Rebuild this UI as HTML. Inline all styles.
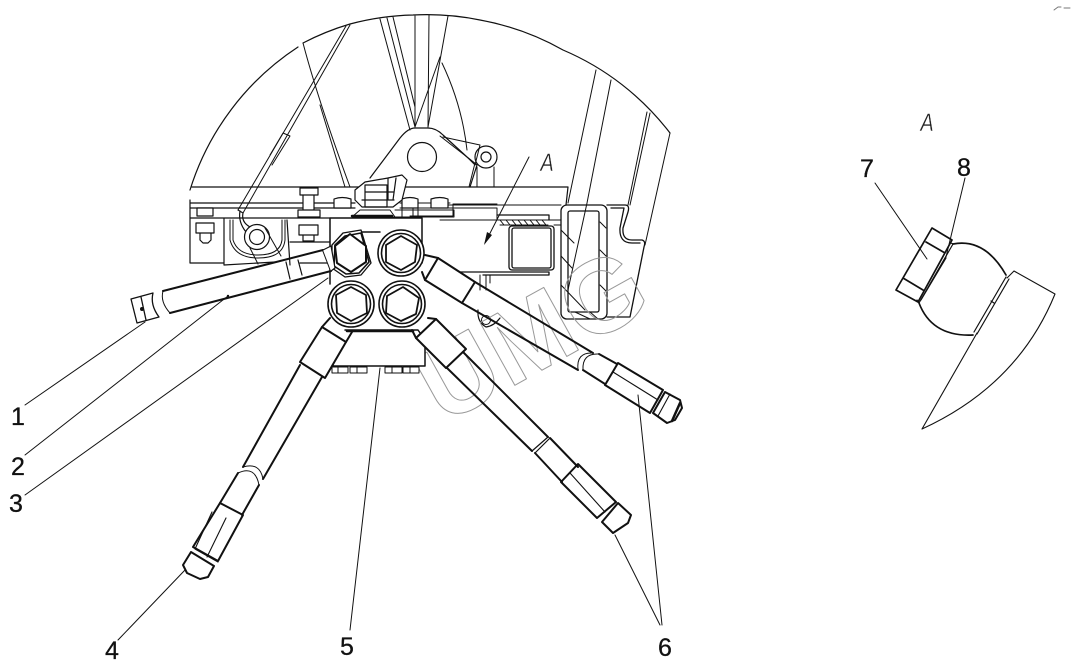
<!DOCTYPE html>
<html><head><meta charset="utf-8"><style>
html,body{margin:0;padding:0;background:#fff}
svg{display:block}
text{font-family:"Liberation Sans",sans-serif}
.n{font-size:25px;fill:#111;stroke:#111;stroke-width:.3;text-anchor:middle}
.a{font-size:25px;font-style:italic;fill:#222;stroke:#fff;stroke-width:.4;text-anchor:middle}
</style></head><body>
<svg width="1072" height="669" viewBox="0 0 1072 669" xmlns="http://www.w3.org/2000/svg" fill="none" stroke="#111" stroke-width="1" stroke-linejoin="round" stroke-linecap="round">
<!-- big arc -->
<path stroke-width="1.2" d="M190 190A265 265 0 0 1 298 47M303 43A265 265 0 0 1 350 24A265 265 0 0 1 413 15A265 265 0 0 1 480 20A265 265 0 0 1 563 50A265 265 0 0 1 670 133"/>
<!-- top interior lines -->
<path d="M346 26L238 210M350 25L243 213M303 43Q318 100 350 187M320 105L345 187M272 165L290 136L283 133L270 155"/>
<path d="M380 19L410 130M387 18L415 127M393 17L415 107M415 16V127M429 15L428 127M448 16L428 127M440 57L415 127M442 63Q462 105 467 150M443 137L480 145L475 165"/>
<!-- lug -->
<path stroke-width="1.2" d="M370 178L400 138Q408 128 415 128H428Q436 128 443 135L467 157L477 165L470 187"/>
<circle cx="422" cy="157" r="14.5" stroke-width="1.2"/>
<circle cx="486" cy="157" r="11" stroke-width="1.2"/><circle cx="486" cy="157" r="5" stroke-width="1.2"/>
<path d="M440 136L467 157L475 165M475 163L469 187M477 167V187M494 167V187"/>
<!-- frame -->
<path stroke-width="1.2" d="M192 187H568L566 205M190 203H355M190 208H355M190 218H330M190 200V263H224M224 218V265M224 265L275 262M287 220L290 265M290 242H330M300 263H330"/>
<path d="M400 203H450M400 208H450M410 216H453V204M453 204H497M440 205H561M450 208H497M440 220H561M497 208V220"/>
<path d="M230 220V240Q235 258 258 258Q283 258 285 240V220M233 220V240Q238 255 258 255Q280 255 282 240V220"/>
<!-- rod hook and ring -->
<path stroke-width="1.2" d="M238 210L243 213M240 211Q238 222 246 232M243 213Q241 222 250 227"/>
<circle cx="257" cy="237" r="12.5" fill="#fff" stroke-width="1.2"/><circle cx="257" cy="237" r="7.5" stroke-width="1.2"/>
<path stroke-width="1" d="M265 228L281 256M250 248L258 264"/>
<!-- bolts -->
<g stroke-width="1.2" fill="#fff">
<path d="M197 208H213V216H197ZM196 223H214V233H196ZM200 233H211V240L208 243H203L200 240Z"/>
<path d="M300 188H318V195H300ZM303 195H314V210H303ZM298 210H320V217H298ZM299 225H318V235H299ZM303 235H314V241H303Z"/>
<path d="M334 199Q342 196 351 199V208H334ZM402 199Q410 196 418 199V208H402ZM431 199Q440 196 448 199V208H431Z"/>
</g>
<path d="M352 217H395L390 210H360ZM395 217H454V210H395M402 208V218H418V208M413 208V218"/>
<!-- clamp -->
<g stroke-width="1.2">
<path fill="#fff" d="M355 200V190L365 182L388 178L402 175L407 180L402 200L393 207H362Z"/>
<path d="M365 185H387V207H365ZM365 192H394M362 200H394M388 178V200M396 178L393 200"/>
<path stroke-width="2.5" d="M352 216H392"/>
</g>
<!-- box right -->
<g stroke-width="1.3">
<rect x="561" y="205" width="46" height="114" rx="6"/>
<rect x="568" y="211" width="31" height="101" rx="2"/>
<path d="M607 205H625Q630 205 628 212L623 228Q622 240 632 240H642Q646 241 644 247L630 317H607M611 208H624L620 228Q619 243 632 243H640"/>
</g>
<path d="M596 70L568 203M611 80L587 203L568 290M647 112L628 205M650 113L630 205M670 133L645 245"/>
<path d="M561 230L574 243M561 256L572 268M561 285L585 310M600 222L606 228M600 250L606 256M600 285L606 291M575 312L590 319M590 312L598 319"/>
<!-- square tube & plate -->
<g stroke-width="1.3">
<rect x="509" y="226" width="45" height="44" rx="3"/>
<rect x="512" y="228" width="39" height="40" rx="2"/>
<path d="M497 215H549V220M460 272H549V275H483"/>
</g>
<path d="M500 220L504 225M506 220L510 225M512 220L516 225M518 220L522 225M524 220L528 225M530 220L534 225M536 220L540 225M542 220L546 225M500 225H548M554 225H561"/>
<!-- arrow A -->
<path d="M529 157L485 243"/><path fill="#111" stroke="none" d="M484 245L487 232L492 235Z"/>
<text class="a" transform="translate(547,171) scale(.8,1)">A</text>
<!-- lower lug -->
<path d="M480 275V290M486 275V290M490 275V283"/>
<path stroke-width="1.2" d="M478 310Q477 322 486 327Q494 326 500 318"/>
<circle cx="486" cy="320" r="4.5"/>
<!-- watermark -->
<text transform="translate(443,425) rotate(-29)" font-size="104" style="fill:none;stroke:#999;stroke-width:1;font-weight:bold">UMG</text>
<!-- valve body -->
<g stroke-width="1.5" fill="#fff">
<path d="M330 218H422V263M330 218V284"/>
<path d="M345 330H418L425 340V366H333V345"/>
<path d="M360 232H380"/>
<path stroke-width="2.5" d="M347 331H413"/>
<path stroke-width="1" d="M332 367H348V373H332ZM350 367H367V373H350ZM385 367H402V373H385ZM403 367H419V373H403ZM338 367V373M357 367V373M392 367V373M410 367V373"/>
</g>
<!-- ports -->
<g fill="#fff" stroke-width="1.6">
<circle cx="401" cy="253" r="23"/><circle cx="401" cy="253" r="19.5"/>
<circle cx="351" cy="304" r="23"/><circle cx="351" cy="304" r="19.5"/>
<circle cx="402" cy="304" r="23"/><circle cx="402" cy="304" r="19.5"/>
<path stroke-width="1.8" d="M351 287L366 295L367 313L351 321L337 313L336 295Z"/>
<path stroke-width="1.8" d="M401 236L417 245L415 262L401 270L386 262L386 245Z"/>
<path stroke-width="1.8" d="M403 287L419 298L416 314L401 321L386 313L387 296Z"/>
<path stroke-width="1.3" d="M332 245L343 233L361 230L371 263L361 275L345 277L332 268Z"/>
<path stroke-width="1.6" d="M335 245L345 236L361 233L369 262L359 273L346 274L334 266Z"/>
<path stroke-width="2" d="M350 234L366 246L366 262L351 272L337 263L335 246Z"/>
</g>
<!-- left hose -->
<g stroke-width="2">
<path d="M163 291L323 250L331 271L170 313"/>
<path d="M163 291Q160 302 170 313" stroke-width="1"/>
<path d="M323 250L331 246L335 268L331 271" stroke-width="1.2" fill="#fff"/>
<path stroke-width="1.2" d="M286 262L290 279M298 260L302 275"/>
<path stroke-width="1.3" d="M131 299L153 293M137 323L159 317M131 299L137 323M153 293Q150 305 159 317M141 297L146 320"/>
</g>
<circle cx="142" cy="309" r="2" fill="#111" stroke="none"/><circle cx="228" cy="296" r="1.2" fill="#111" stroke="none"/>
<!-- hose 4 -->
<g stroke-width="2">
<path fill="#fff" d="M322 327L346 342L325 378L300 362Z"/>
<path d="M322 327L330 318M346 342L352 332M300 365L243 467M322 377L263 479M238 473L220 503M259 485L242 515"/>
<path stroke-width="1" d="M243 467Q260 462 263 479M238 473Q255 465 259 485"/>
<path d="M220 503L243 515L218 561L193 547ZM191 552L214 566L208 577L200 579L187 573L183 565Z"/>
<path stroke-width="1.1" d="M212 512L195 549M226 518L207 557M195 549L218 562"/>
</g>
<!-- hose lower right -->
<g stroke-width="2">
<path fill="#fff" d="M436 319L466 349L446 368L416 338Z"/>
<path d="M428 318L436 319M416 338L412 330M463 352L548 437M447 368L532 451M550 438L578 467M535 453L562 482"/>
<path stroke-width="1.2" d="M548 437L532 451M550 438L535 453"/>
<path d="M578 464L616 502L597 518L561 482ZM602 522L618 503L631 515L628 523L613 533Z"/>
<path stroke-width="1.1" d="M570 473L605 512"/>
</g>
<!-- hose upper right -->
<g stroke-width="2">
<path fill="#fff" d="M438 258L475 282L462 303L425 280Z"/>
<path d="M425 255L438 258M422 272L425 280M475 282L593 353M462 303L578 370M599 354L617 364M583 370L605 384"/>
<path stroke-width="1" d="M578 370Q576 352 593 353M583 370Q582 353 599 354"/>
<path d="M618 363L663 390L650 413L605 385ZM665 392L680 400L682 408L675 420L667 423L653 413Z"/>
<path stroke-width="1.1" d="M613 372L658 400M670 394L658 416"/>
<path stroke-width="2.5" d="M680 403L672 421"/>
</g>
<!-- leaders -->
<path d="M25 405L145 322M25 455L228 296M25 495L328 278M118 640L185 570M350 630L380 368M638 395L662 625M615 535L660 625"/>
<!-- labels -->
<text class="n" x="18" y="425">1</text>
<text class="n" x="18" y="475">2</text>
<text class="n" x="16" y="512">3</text>
<text class="n" x="112" y="659">4</text>
<text class="n" x="347" y="655">5</text>
<text class="n" x="665" y="656">6</text>
<text class="n" x="867" y="177">7</text>
<text class="n" x="964" y="176">8</text>
<text class="a" transform="translate(927,131) scale(.8,1)">A</text>
<!-- section A -->
<path d="M875 183L927 259M965 178L946 257"/>
<g stroke-width="1.7">
<path d="M932 228L952 240L918 302L896 290ZM926 242L945 253M903 278L923 290"/>
<path stroke-width="1.2" d="M951 243L953 244L919 303L917 300M946 258L921 300"/>
<path d="M953 244Q985 238 1006 275M919 303Q932 337 973 335"/>
<path stroke-width="1.2" d="M1006 277L974 332M1009 279L977 334M991 301L994 303"/>
</g>
<path stroke-width="1.1" d="M1007 278L1014 271L1055 294Q1018 385 922 429L977 333"/>
<!-- smudge -->
<path stroke="#777" d="M1054 10L1058 7H1061M1064 8H1070"/>
</svg>
</body></html>
